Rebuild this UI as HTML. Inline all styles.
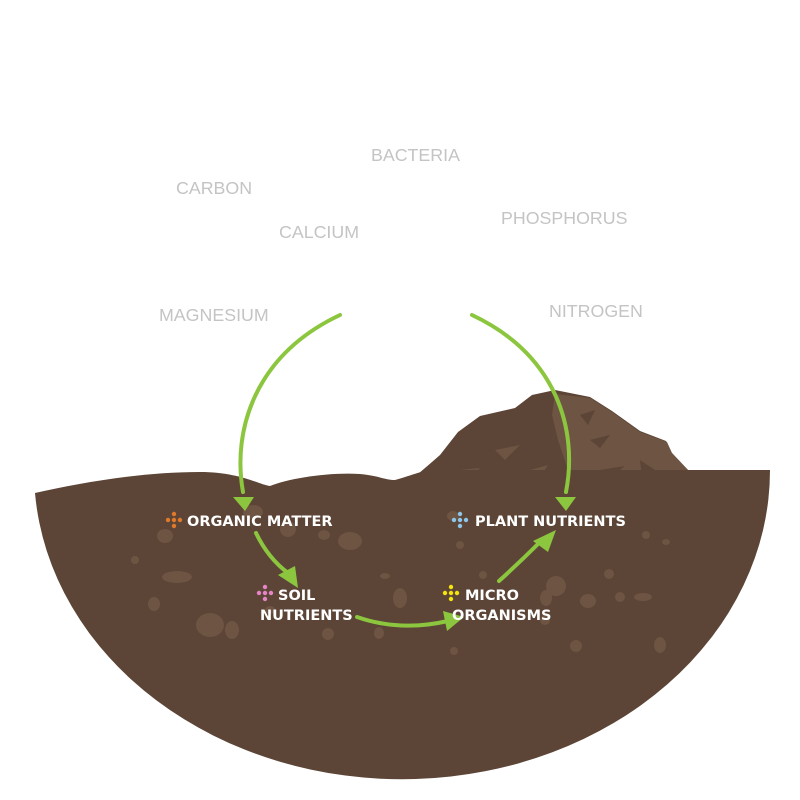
<!DOCTYPE html>
<html><head><meta charset="utf-8"><style>
html,body{margin:0;padding:0;background:#fff;width:800px;height:800px;overflow:hidden}
svg{display:block}
.g{font-family:"Liberation Sans",sans-serif;font-size:17.8px;fill:#c4c4c4}
.w{font-family:"DejaVu Sans","Liberation Sans",sans-serif;font-size:14.5px;fill:#fff;font-weight:bold}
</style></head><body>
<svg width="800" height="800" viewBox="0 0 800 800" xmlns="http://www.w3.org/2000/svg">
<text class="g" x="371" y="161">BACTERIA</text>
<text class="g" x="176" y="194">CARBON</text>
<text class="g" x="279" y="238">CALCIUM</text>
<text class="g" x="501" y="224">PHOSPHORUS</text>
<text class="g" x="159" y="321">MAGNESIUM</text>
<text class="g" x="549" y="317">NITROGEN</text>

<!-- pile -->
<path d="M418,474 L432,462 L440,455 L458,432 L480,416 L515,408 L532,395 L555,390 L590,397 L612,411 L640,431 L666,441 L671,452 L688,470 L690,510 L418,510 Z" fill="#5c4536"/>
<path d="M555,394 L590,398 L612,412 L640,432 L667,442 L672,453 L688,470 L688,505 L575,505 L568,470 L558,440 L552,415 Z" fill="#6d5443"/>
<g fill="#6d5443">
<path d="M495,450 L520,445 L505,460 Z"/><path d="M530,470 L548,465 L540,478 Z"/><path d="M460,470 L480,468 L470,480Z"/>
</g>
<g fill="#5c4536">
<path d="M590,440 L610,435 L600,448Z"/><path d="M600,470 L625,466 L612,476Z"/><path d="M640,460 L655,470 L642,478Z"/><path d="M580,415 L595,410 L588,425Z"/>
</g>
<!-- soil -->
<path d="M35,493 C80,483 140,472 200,472 C240,472 260,485 270,486 C290,478 330,472 360,474 C380,476 385,480 395,480 C410,476 418,472 430,470 L688,470 L770,470 A368,309 0 0 1 35,493 Z" fill="#5c4536"/>
<g fill="#6d5443">
<ellipse cx="165" cy="536" rx="8" ry="7"/><ellipse cx="177" cy="577" rx="15" ry="6"/>
<ellipse cx="154" cy="604" rx="6" ry="7"/><ellipse cx="210" cy="625" rx="14" ry="12"/>
<ellipse cx="232" cy="630" rx="7" ry="9"/><ellipse cx="288" cy="529" rx="8" ry="8"/>
<ellipse cx="350" cy="541" rx="12" ry="9"/><ellipse cx="324" cy="535" rx="6" ry="5"/>
<ellipse cx="385" cy="576" rx="5" ry="3"/><ellipse cx="400" cy="598" rx="7" ry="10"/>
<ellipse cx="379" cy="633" rx="5" ry="6"/><ellipse cx="328" cy="634" rx="6" ry="6"/>
<ellipse cx="453" cy="516" rx="6" ry="5"/><ellipse cx="460" cy="545" rx="4" ry="4"/>
<ellipse cx="556" cy="586" rx="10" ry="10"/><ellipse cx="546" cy="598" rx="6" ry="8"/>
<ellipse cx="588" cy="601" rx="8" ry="7"/><ellipse cx="609" cy="574" rx="5" ry="5"/>
<ellipse cx="620" cy="597" rx="5" ry="5"/><ellipse cx="643" cy="597" rx="9" ry="4"/>
<ellipse cx="646" cy="535" rx="4" ry="4"/><ellipse cx="666" cy="542" rx="4" ry="3"/>
<ellipse cx="483" cy="575" rx="4" ry="4"/><ellipse cx="454" cy="651" rx="4" ry="4"/>
<ellipse cx="576" cy="646" rx="6" ry="6"/><ellipse cx="660" cy="645" rx="6" ry="8"/>
<ellipse cx="545" cy="620" rx="5" ry="5"/><ellipse cx="135" cy="560" rx="4" ry="4"/>
<ellipse cx="253" cy="512" rx="10" ry="7"/><ellipse cx="270" cy="610" rx="5" ry="4"/>
</g>
<!-- arrows -->
<g fill="none" stroke="#8cc63f" stroke-width="4" stroke-linecap="round">
<path d="M340,315 C255,355 232,430 243,492"/>
<path d="M472,315 C557,355 578,430 566,492"/>
<path d="M256,533 Q268,558 288,573"/>
<path d="M357,617 Q400,632 448,621"/>
<path d="M499,581 Q520,562 540,542"/>
</g>
<g fill="#8cc63f">
<path d="M233,497 L254,497 L245,511 Z"/>
<path d="M555,497 L576,497 L566,511 Z"/>
<path d="M278,575 L295,566 L298,588 Z"/>
<path d="M443,611 L447,631 L464,617 Z"/>
<path d="M533,541 L548,552 L556,530 Z"/>
</g>
<!-- icons -->
<g fill="#e07a2a"><circle cx="174" cy="514" r="2.2"/><circle cx="174" cy="526" r="2.2"/><circle cx="168" cy="520" r="2.2"/><circle cx="180" cy="520" r="2.2"/><circle cx="174" cy="520" r="2.2"/></g>
<g fill="#e784c8"><circle cx="265" cy="587" r="2.2"/><circle cx="265" cy="599" r="2.2"/><circle cx="259" cy="593" r="2.2"/><circle cx="271" cy="593" r="2.2"/><circle cx="265" cy="593" r="2.2"/></g>
<g fill="#f3e40e"><circle cx="451" cy="587" r="2.2"/><circle cx="451" cy="599" r="2.2"/><circle cx="445" cy="593" r="2.2"/><circle cx="457" cy="593" r="2.2"/><circle cx="451" cy="593" r="2.2"/></g>
<g fill="#8ec5ea"><circle cx="460" cy="514" r="2.2"/><circle cx="460" cy="526" r="2.2"/><circle cx="454" cy="520" r="2.2"/><circle cx="466" cy="520" r="2.2"/><circle cx="460" cy="520" r="2.2"/></g>
<text class="w" x="187" y="526">ORGANIC MATTER</text>
<text class="w" x="278" y="600">SOIL</text>
<text class="w" x="260" y="620">NUTRIENTS</text>
<text class="w" x="465" y="600">MICRO</text>
<text class="w" x="452" y="620">ORGANISMS</text>
<text class="w" x="475" y="526">PLANT NUTRIENTS</text>
</svg>
</body></html>
